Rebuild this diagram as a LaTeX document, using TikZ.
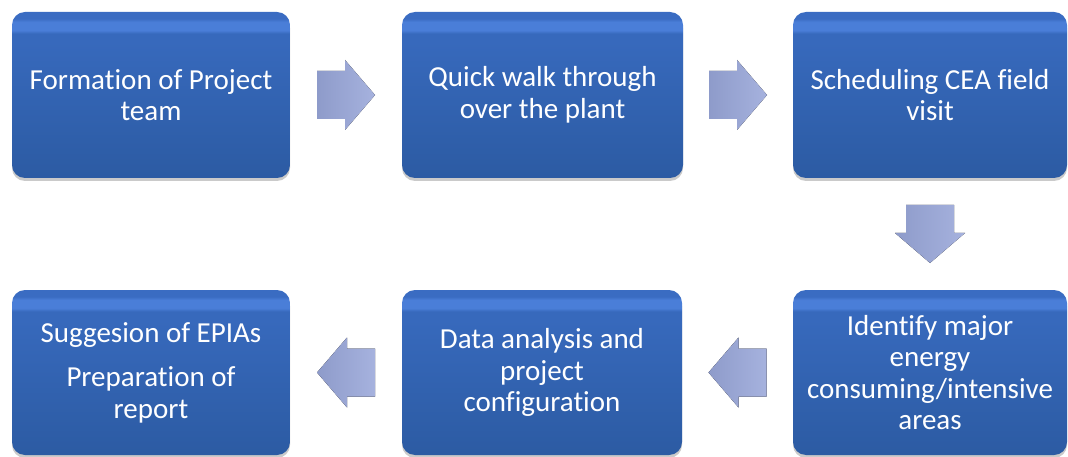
\documentclass[tikz,border=0pt]{standalone}
\usepackage{fontspec}
\setmainfont{Carlito}[Ligatures=NoCommon]
\usetikzlibrary{calc,shadows}

\definecolor{boxtop}{HTML}{3A6CC2}
\definecolor{boxband}{HTML}{4A7ED8}
\definecolor{boxmid}{HTML}{3769BC}
\definecolor{boxbot}{HTML}{2C5BA3}
\definecolor{arrowdark}{HTML}{8E9BCA}
\definecolor{arrowlight}{HTML}{A6B2DE}

% vertical shading for the step boxes: darker bottom, light band near the top
\pgfdeclareverticalshading{stepshade}{100bp}{%
  color(0bp)=(boxbot); color(25bp)=(boxbot); color(66bp)=(boxmid);
  color(68.5bp)=(boxmid); color(69.5bp)=(boxband); color(72bp)=(boxband);
  color(73bp)=(boxtop); color(75bp)=(boxtop); color(100bp)=(boxtop)}

\tikzset{
  stepbox/.style={rounded corners=13pt, shading=stepshade,
    draw=none, text=white, align=center,
    font=\fontsize{29pt}{31.5pt}\selectfont,
    drop shadow={shadow xshift=0pt, shadow yshift=-3pt, opacity=0.35, fill=black!60},
    inner sep=0pt},
  blockarrow/.style={left color=arrowdark, right color=arrowlight, draw=none}
}

% block arrow of length 58, shaft 48 and head 70 wide, centred on #1, turned by #2
\newcommand\stepflow[2]{%
  \begin{scope}[shift={(#1)}, rotate=#2]
    \fill[blockarrow] (-29,-24) -- (-1,-24) -- (-1,-35) -- (29,0) -- (-1,35)
      -- (-1,24) -- (-29,24) -- cycle;
  \end{scope}}

\begin{document}
\begin{tikzpicture}[x=1pt, y=-1pt]
  \useasboundingbox (0,0) rectangle (1068,457);

  % top row
  \node[stepbox, minimum width=278pt, minimum height=166pt] (b1) at (151,95)
    {Formation of Project\\team};
  \node[stepbox, minimum width=281pt, minimum height=166pt] (b2) at (542.5,95)
    {Quick walk through\\over the plant};
  \node[stepbox, minimum width=274pt, minimum height=166pt] (b3) at (930,95)
    {Scheduling CEA field\\visit};

  % bottom row
  \node[stepbox, minimum width=278pt, minimum height=165pt] (b6) at (151,372.5)
    {Suggesion of EPIAs\\[13pt]Preparation of\\report};
  \node[stepbox, minimum width=280pt, minimum height=165pt] (b5) at (542,372.5)
    {Data analysis and\\project\\configuration};
  \node[stepbox, minimum width=274pt, minimum height=165pt] (b4) at (930,372.5)
    {Identify major\\energy\\consuming/intensive\\areas};

  % arrows between the steps
  \coordinate (a12) at ($(b1.east)!0.5!(b2.west)$);
  \coordinate (a23) at ($(b2.east)!0.5!(b3.west)$);
  \coordinate (a34) at ($(b3.south)!0.5!(b4.north)$);
  \coordinate (a45) at ($(b4.west)!0.5!(b5.east)$);
  \coordinate (a56) at ($(b5.west)!0.5!(b6.east)$);
  \stepflow{a12}{0}
  \stepflow{a23}{0}
  \stepflow{a34}{-90}
  \stepflow{a45}{180}
  \stepflow{a56}{180}
\end{tikzpicture}
\end{document}
